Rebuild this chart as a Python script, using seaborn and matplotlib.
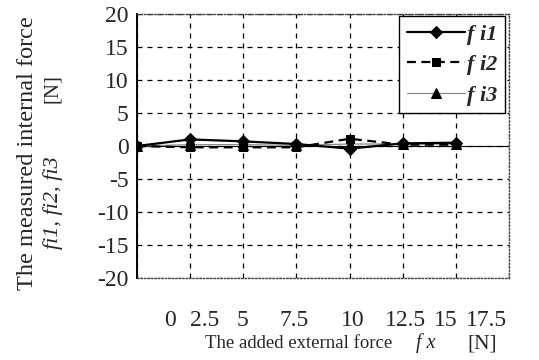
import numpy as np
import pandas as pd
import matplotlib
matplotlib.use("Agg")
import matplotlib.pyplot as plt
import seaborn as sns

# ---- data ----
forces = [0, 2.5, 5, 7.5, 10, 12.5, 15]
fi1 = [0.0, 1.0, 0.7, 0.3, -0.4, 0.4, 0.5]
fi2 = [0.0, -0.2, -0.2, -0.2, 1.1, 0.2, 0.2]
fi3 = [0.0, 0.2, 0.2, 0.1, 0.3, 0.3, 0.3]
series_names = ["f i1", "f i2", "f i3"]
x_tick_labels = ["0", "2.5", "5", "7.5", "10", "12.5", "15", "17.5"]
y_ticks = [-20, -15, -10, -5, 0, 5, 10, 15, 20]

# layout (label positions as typed in the original figure, data units)
x_label_pos = [1.57, 3.18, 4.98, 7.40, 10.16, 12.62, 14.52, 16.42]

sns.set_theme(style="white")
plt.rcParams["font.family"] = ["Liberation Serif", "DejaVu Serif"]

W, H = 539, 360
fig = plt.figure(figsize=(W / 100, H / 100), dpi=100)
ax = fig.add_axes([137 / W, 1 - 278 / H, (509 - 137) / W, (278 - 14) / H])

df = pd.DataFrame({"x": forces, "fi1": fi1, "fi2": fi2, "fi3": fi3})

sns.lineplot(data=df, x="x", y="fi3", ax=ax, color="#888888", lw=0.9,
             marker="^", markersize=7, markerfacecolor="black",
             markeredgecolor="black", label=series_names[2], zorder=3)
sns.lineplot(data=df, x="x", y="fi2", ax=ax, color="black", lw=1.6,
             linestyle=(0, (4, 2.5)), marker="s", markersize=6,
             markerfacecolor="black", markeredgecolor="black",
             label=series_names[1], zorder=4)
sns.lineplot(data=df, x="x", y="fi1", ax=ax, color="black", lw=1.6,
             marker="D", markersize=6.5, markerfacecolor="black",
             markeredgecolor="black", label=series_names[0], zorder=5)

ax.set_xlim(0, 17.5)
ax.set_ylim(-20, 20)

# gridlines at data positions (minor), labels at typed positions (major)
ax.set_xticks(forces + [17.5], minor=True)
ax.set_xticks(x_label_pos)
ax.set_xticklabels(x_tick_labels, fontsize=17)
ax.set_yticks(y_ticks)
ax.set_yticklabels([str(v) for v in y_ticks], fontsize=17)
ax.tick_params(axis="both", which="both", length=0)
ax.tick_params(axis="x", pad=23)
ax.tick_params(axis="y", pad=6)

ax.grid(False)
ax.grid(True, which="minor", axis="x", color="black", linestyle=(0, (4, 4)), lw=0.9)
ax.grid(True, which="major", axis="y", color="black", linestyle=(0, (4, 4)), lw=0.9)
ax.axhline(0, color="black", lw=0.8, zorder=2)

for s in ["top", "right", "bottom"]:
    ax.spines[s].set_linestyle((0, (1, 1.5)))
    ax.spines[s].set_color("#444444")
    ax.spines[s].set_linewidth(1.0)
ax.spines["left"].set_color("black")
ax.spines["left"].set_linewidth(1.4)

ax.set_xlabel("")
ax.set_ylabel("")

# legend in order fi1, fi2, fi3
handles, labels = ax.get_legend_handles_labels()
order = [labels.index(n) for n in series_names]
leg = ax.legend([handles[i] for i in order], [labels[i] for i in order],
                loc="upper right", bbox_to_anchor=(0.995, 1.0),
                prop={"family": "Liberation Serif", "style": "italic",
                      "weight": "bold", "size": 16},
                frameon=True, fancybox=False, edgecolor="black",
                handlelength=2.6, handletextpad=0.1, labelspacing=0.45,
                borderpad=0.35, borderaxespad=0.1)
leg.get_frame().set_linewidth(1.0)
leg.get_frame().set_facecolor("white")
leg.get_frame().set_alpha(1)

def px(x, y):
    return x / W, 1 - y / H

# y label
fig.text(*px(28, 153), "The measured internal force", rotation=90,
         ha="center", va="center", fontsize=17.5)
fig.text(*px(53, 203), "fi1, fi2, fi3", rotation=90, ha="center",
         va="center", fontsize=16, style="italic")
fig.text(*px(53, 89), "[N]", rotation=90, ha="center", va="center",
         fontsize=15)

# x label
fig.text(*px(299, 348), "The added external force", ha="center",
         va="baseline", fontsize=13.5)
fig.text(*px(426, 348), "f x", ha="center", va="baseline", fontsize=14.5,
         style="italic")
fig.text(*px(482, 348), "[N]", ha="center", va="baseline", fontsize=15.5)

fig.savefig("out.png", dpi=100)
